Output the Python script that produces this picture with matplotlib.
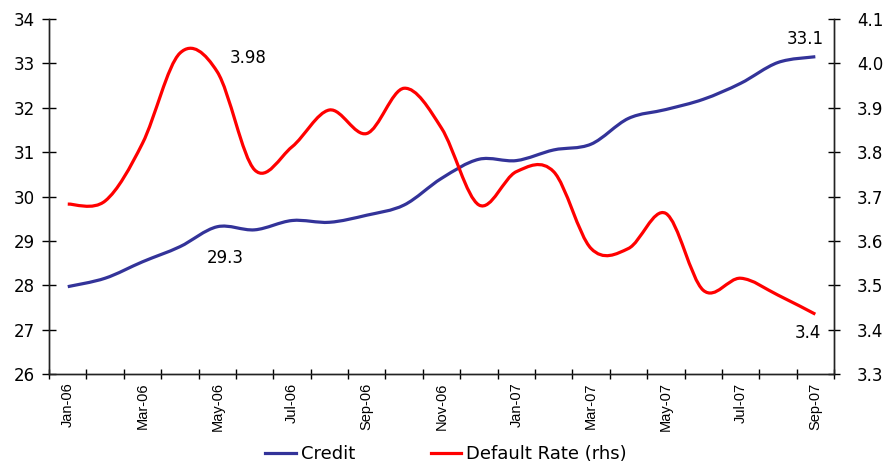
import numpy as np
import matplotlib.pyplot as plt
from matplotlib.path import Path
from matplotlib.patches import PathPatch
from matplotlib.lines import Line2D

plt.rcParams['font.family'] = ['DejaVu Sans']

months = ['Jan-06', 'Feb-06', 'Mar-06', 'Apr-06', 'May-06', 'Jun-06', 'Jul-06',
          'Aug-06', 'Sep-06', 'Oct-06', 'Nov-06', 'Dec-06', 'Jan-07', 'Feb-07',
          'Mar-07', 'Apr-07', 'May-07', 'Jun-07', 'Jul-07', 'Aug-07', 'Sep-07']
credit = [27.97, 28.16, 28.53, 28.87, 29.32, 29.25, 29.46, 29.42, 29.58, 29.81,
          30.41, 30.84, 30.81, 31.05, 31.18, 31.76, 31.96, 32.19, 32.55, 33.02, 33.15]
default_rate = [3.683, 3.690, 3.820, 4.023, 3.981, 3.760, 3.812, 3.895, 3.842, 3.944,
                3.854, 3.681, 3.756, 3.756, 3.583, 3.583, 3.662, 3.489, 3.516, 3.478, 3.435]

NAVY = '#333399'
RED = '#ff0000'


def smooth_patch(x, y, color):
    # excel style smoothed line: bezier through every point
    x = np.asarray(x, float)
    y = np.asarray(y, float)
    n = len(x)
    verts = [(x[0], y[0])]
    codes = [Path.MOVETO]
    for i in range(n - 1):
        i0 = max(i - 1, 0)
        i2 = min(i + 2, n - 1)
        c1 = (x[i] + (x[i + 1] - x[i0]) / 6, y[i] + (y[i + 1] - y[i0]) / 6)
        c2 = (x[i + 1] - (x[i2] - x[i]) / 6, y[i + 1] - (y[i2] - y[i]) / 6)
        verts += [c1, c2, (x[i + 1], y[i + 1])]
        codes += [Path.CURVE4] * 3
    return PathPatch(Path(verts, codes), fill=False, edgecolor=color, lw=2.3,
                     capstyle='butt', joinstyle='round')


fig = plt.figure(figsize=(8.92, 4.63), dpi=100)
ax = fig.add_axes([0.055, 0.192, 0.88, 0.767])
ax2 = ax.twinx()

xs = np.arange(len(months))
ax.add_patch(smooth_patch(xs, credit, NAVY))
ax2.add_patch(smooth_patch(xs, default_rate, RED))

ax.set_xlim(-0.5, len(months) - 0.5)
ax.set_ylim(26, 34)
ax2.set_ylim(3.3, 4.1)
ax.set_yticks(np.arange(26, 35, 1))
ax2.set_yticks(np.arange(3.3, 4.11, 0.1))
ax2.set_yticklabels(['%.1f' % v for v in np.arange(3.3, 4.11, 0.1)])

ax.set_xticks(np.arange(-0.5, len(months), 1))
ax.set_xticklabels([])
ax.set_xticks(xs[::2], minor=True)
ax.set_xticklabels(months[::2], minor=True, rotation=90, fontsize=10.5,
                   family='Liberation Sans')
ax.tick_params(axis='x', which='major', direction='inout', length=7, width=1)
ax.tick_params(axis='x', which='minor', length=0, pad=6)
ax.tick_params(axis='y', direction='inout', length=10, width=1, labelsize=12, pad=5)
ax2.tick_params(axis='y', direction='inout', length=9, width=1, labelsize=12, pad=12)

for a in (ax, ax2):
    a.spines['top'].set_visible(False)
    for s in ('left', 'right', 'bottom'):
        a.spines[s].set_color('#222222')
        a.spines[s].set_linewidth(1)

ax.text(4.32, 33.12, '3.98', fontsize=12, va='center')
ax.text(3.73, 28.61, '29.3', fontsize=12, va='center')
ax.text(19.24, 33.55, '33.1', fontsize=12, va='center')
ax.text(19.46, 26.92, '3.4', fontsize=12, va='center')

handles = [Line2D([], [], color=NAVY, lw=2.3), Line2D([], [], color=RED, lw=2.3)]
fig.legend(handles, ['Credit', 'Default Rate (rhs)'], loc='lower center',
           bbox_to_anchor=(0.5, -0.035), ncol=2, frameon=False, fontsize=13,
           handlelength=1.67, handletextpad=0.28, columnspacing=4.2)

fig.savefig('out.png', dpi=100)
